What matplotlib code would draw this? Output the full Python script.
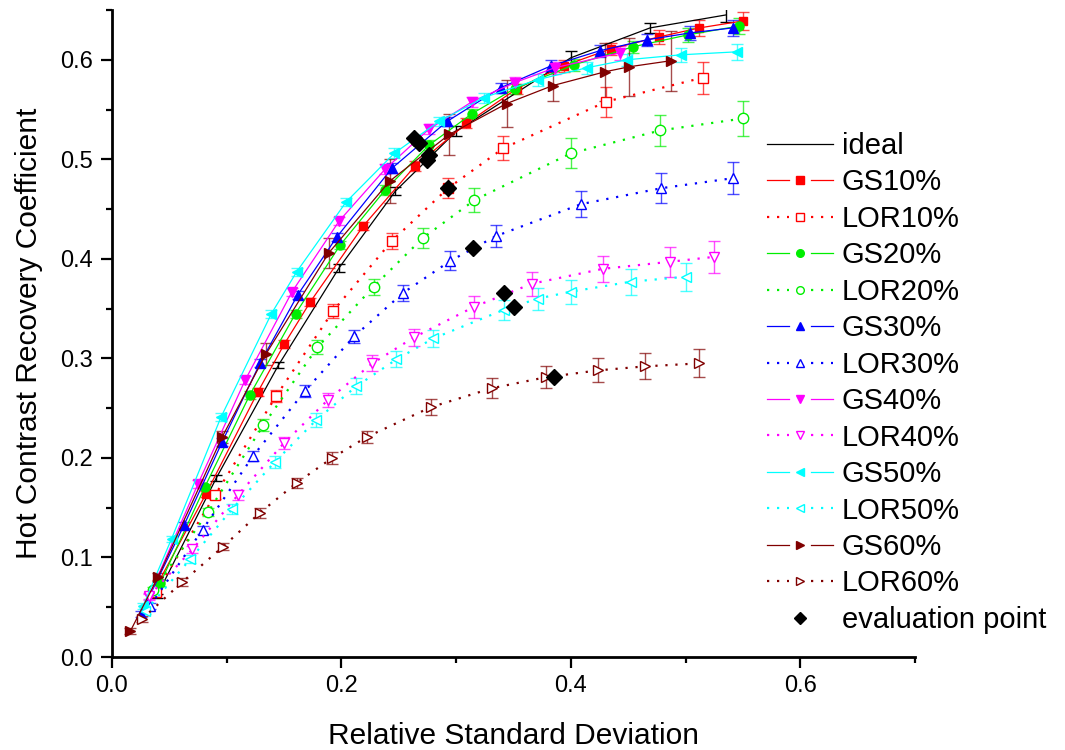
import matplotlib

matplotlib.use("Agg")

import matplotlib.pyplot as plt
from matplotlib.legend_handler import HandlerBase
from matplotlib.lines import Line2D
from matplotlib.ticker import MultipleLocator

plt.rcParams["font.family"] = ["Liberation Sans", "DejaVu Sans"]

# values
IDEAL_X = [0.039, 0.091, 0.145, 0.198, 0.247, 0.300, 0.400, 0.469, 0.535]
IDEAL_Y = [0.061, 0.180, 0.293, 0.391, 0.468, 0.528, 0.602, 0.632, 0.645]
IDEAL_E = [0.002, 0.003, 0.003, 0.004, 0.004, 0.005, 0.007, 0.005, 0.007]

GS10_X = [0.040, 0.082, 0.127, 0.150, 0.173, 0.219, 0.264, 0.309, 0.353, 0.394, 0.435, 0.477, 0.512, 0.550]
GS10_Y = [0.074, 0.164, 0.266, 0.314, 0.357, 0.433, 0.493, 0.536, 0.571, 0.594, 0.611, 0.623, 0.632, 0.639]
GS10_E = [0.003, 0.003, 0.004, 0.004, 0.004, 0.004, 0.005, 0.005, 0.005, 0.006, 0.006, 0.007, 0.008, 0.009]

LOR10_X = [0.038, 0.090, 0.143, 0.193, 0.244, 0.293, 0.341, 0.431, 0.515]
LOR10_Y = [0.065, 0.163, 0.262, 0.348, 0.418, 0.471, 0.511, 0.558, 0.582]
LOR10_E = [0.003, 0.004, 0.006, 0.007, 0.008, 0.010, 0.012, 0.015, 0.016]

GS20_X = [0.042, 0.081, 0.120, 0.160, 0.199, 0.238, 0.276, 0.314, 0.351, 0.403, 0.454, 0.502, 0.547]
GS20_Y = [0.074, 0.171, 0.263, 0.345, 0.414, 0.469, 0.514, 0.546, 0.571, 0.595, 0.613, 0.625, 0.634]
GS20_E = [0.003, 0.003, 0.004, 0.004, 0.004, 0.005, 0.005, 0.005, 0.005, 0.006, 0.006, 0.007, 0.008]

LOR20_X = [0.036, 0.084, 0.132, 0.179, 0.228, 0.271, 0.316, 0.400, 0.478, 0.550]
LOR20_Y = [0.067, 0.146, 0.233, 0.311, 0.372, 0.421, 0.459, 0.506, 0.529, 0.541]
LOR20_E = [0.003, 0.004, 0.006, 0.007, 0.008, 0.010, 0.012, 0.015, 0.016, 0.018]

GS30_X = [0.025, 0.063, 0.096, 0.129, 0.162, 0.196, 0.244, 0.292, 0.339, 0.383, 0.425, 0.466, 0.504, 0.541]
GS30_Y = [0.043, 0.133, 0.216, 0.295, 0.364, 0.422, 0.491, 0.538, 0.572, 0.594, 0.609, 0.620, 0.627, 0.632]
GS30_E = [0.003, 0.003, 0.004, 0.004, 0.004, 0.004, 0.005, 0.005, 0.005, 0.006, 0.006, 0.006, 0.007, 0.008]

LOR30_X = [0.033, 0.079, 0.123, 0.168, 0.211, 0.254, 0.295, 0.335, 0.409, 0.479, 0.541]
LOR30_Y = [0.051, 0.128, 0.202, 0.267, 0.322, 0.366, 0.398, 0.423, 0.455, 0.471, 0.481]
LOR30_E = [0.003, 0.004, 0.005, 0.006, 0.007, 0.008, 0.0095, 0.011, 0.013, 0.015, 0.016]

GS40_X = [0.032, 0.075, 0.116, 0.157, 0.198, 0.238, 0.276, 0.314, 0.351, 0.386, 0.443]
GS40_Y = [0.060, 0.174, 0.278, 0.367, 0.438, 0.490, 0.530, 0.558, 0.577, 0.592, 0.607]
GS40_E = [0.003, 0.004, 0.004, 0.004, 0.004, 0.005, 0.005, 0.005, 0.006, 0.006, 0.007]

LOR40_X = [0.032, 0.070, 0.110, 0.150, 0.188, 0.227, 0.263, 0.316, 0.366, 0.428, 0.486, 0.525]
LOR40_Y = [0.061, 0.108, 0.163, 0.215, 0.258, 0.295, 0.321, 0.352, 0.375, 0.390, 0.397, 0.402]
LOR40_E = [0.003, 0.004, 0.005, 0.006, 0.007, 0.008, 0.009, 0.011, 0.012, 0.013, 0.015, 0.016]

GS50_X = [0.027, 0.052, 0.095, 0.139, 0.161, 0.204, 0.246, 0.285, 0.324, 0.371, 0.414, 0.449, 0.496, 0.545]
GS50_Y = [0.051, 0.119, 0.241, 0.345, 0.387, 0.457, 0.506, 0.538, 0.562, 0.580, 0.592, 0.600, 0.605, 0.608]
GS50_E = [0.003, 0.003, 0.004, 0.004, 0.004, 0.004, 0.005, 0.005, 0.005, 0.006, 0.006, 0.006, 0.007, 0.008]

LOR50_X = [0.029, 0.068, 0.105, 0.142, 0.178, 0.213, 0.248, 0.280, 0.342, 0.371, 0.400, 0.452, 0.500]
LOR50_Y = [0.046, 0.098, 0.149, 0.196, 0.238, 0.272, 0.299, 0.320, 0.349, 0.360, 0.367, 0.377, 0.382]
LOR50_E = [0.003, 0.004, 0.005, 0.006, 0.007, 0.008, 0.008, 0.009, 0.010, 0.011, 0.012, 0.013, 0.014]

GS60_X = [0.016, 0.040, 0.096, 0.134, 0.189, 0.242, 0.294, 0.344, 0.384, 0.430, 0.451, 0.487]
GS60_Y = [0.026, 0.080, 0.221, 0.304, 0.406, 0.478, 0.525, 0.556, 0.574, 0.588, 0.593, 0.599]
GS60_E = [0.003, 0.004, 0.006, 0.011, 0.015, 0.022, 0.021, 0.024, 0.015, 0.029, 0.029, 0.030]

LOR60_X = [0.026, 0.061, 0.097, 0.129, 0.161, 0.192, 0.222, 0.278, 0.331, 0.378, 0.424, 0.465, 0.512]
LOR60_Y = [0.038, 0.075, 0.111, 0.145, 0.175, 0.200, 0.221, 0.251, 0.270, 0.281, 0.288, 0.292, 0.295]
LOR60_E = [0.003, 0.004, 0.004, 0.005, 0.005, 0.006, 0.006, 0.008, 0.010, 0.011, 0.012, 0.013, 0.014]

EVAL_X = [0.263, 0.268, 0.275, 0.276, 0.293, 0.315, 0.342, 0.350, 0.385]
EVAL_Y = [0.521, 0.516, 0.499, 0.504, 0.471, 0.411, 0.366, 0.352, 0.281]

DOTS = (0, (1, 3.5))

# label, x, y, err, color, marker, filled
SERIES = [
    ("GS10%", GS10_X, GS10_Y, GS10_E, "#ff0000", "s", True),
    ("LOR10%", LOR10_X, LOR10_Y, LOR10_E, "#ff0000", "s", False),
    ("GS20%", GS20_X, GS20_Y, GS20_E, "#00ee00", "o", True),
    ("LOR20%", LOR20_X, LOR20_Y, LOR20_E, "#00ee00", "o", False),
    ("GS30%", GS30_X, GS30_Y, GS30_E, "#0000ff", "^", True),
    ("LOR30%", LOR30_X, LOR30_Y, LOR30_E, "#0000ff", "^", False),
    ("GS40%", GS40_X, GS40_Y, GS40_E, "#ff00ff", "v", True),
    ("LOR40%", LOR40_X, LOR40_Y, LOR40_E, "#ff00ff", "v", False),
    ("GS50%", GS50_X, GS50_Y, GS50_E, "#00ffff", "<", True),
    ("LOR50%", LOR50_X, LOR50_Y, LOR50_E, "#00ffff", "<", False),
    ("GS60%", GS60_X, GS60_Y, GS60_E, "#800000", ">", True),
    ("LOR60%", LOR60_X, LOR60_Y, LOR60_E, "#800000", ">", False),
]


class GapHandler(HandlerBase):
    # Origin-style legend sample: line, gap, marker, gap, line
    def __init__(self, ms=5.5):
        super().__init__()
        self.ms = ms

    def create_artists(self, legend, orig, xdescent, ydescent, width, height, fontsize, trans):
        y = (height - ydescent) / 2
        x0 = -xdescent
        has_marker = orig.get_marker() not in (None, "None", "none", "")
        has_line = orig.get_linestyle() not in ("None", "none", "")
        arts = []
        if has_line:
            segs = [(x0, x0 + width)]
            if has_marker:
                segs = [(x0, x0 + 0.33 * width), (x0 + 0.67 * width, x0 + width)]
            for a, b in segs:
                ln = Line2D([a, b], [y, y])
                ln.update_from(orig)
                ln.set_marker("None")
                ln.set_transform(trans)
                arts.append(ln)
        if has_marker:
            mk = Line2D([x0 + width / 2], [y])
            mk.update_from(orig)
            mk.set_linestyle("None")
            mk.set_markersize(self.ms)
            mk.set_transform(trans)
            arts.append(mk)
        return arts


def main():
    fig = plt.figure(figsize=(10.65, 7.5), dpi=100)
    ax = fig.add_axes([112 / 1065, 93 / 750, 803 / 1065, 647 / 750])

    handles = []
    labels = []

    cont = ax.errorbar(IDEAL_X, IDEAL_Y, yerr=IDEAL_E, color="black", lw=0.9,
                       capsize=4, capthick=1, elinewidth=1, zorder=3)
    handles.append(cont[0])
    labels.append("ideal")

    for label, x, y, e, color, marker, filled in SERIES:
        ls = "-" if filled else DOTS
        lw = 0.9 if filled else 1.6
        ms = 6.5 if filled else 7.5
        if marker == "s":
            ms -= 1
        cont = ax.errorbar(
            x, y, yerr=e,
            color=color, linestyle=ls, linewidth=lw,
            marker=marker, markersize=ms,
            markerfacecolor=color if filled else "white",
            markeredgecolor=color, markeredgewidth=1.0,
            ecolor=color, elinewidth=1.0, capsize=4, capthick=1.0,
            zorder=3,
        )
        for art in list(cont[1]) + list(cont[2]):
            art.set_alpha(0.7)
        handles.append(cont[0])
        labels.append(label)

    ev = ax.plot(EVAL_X, EVAL_Y, linestyle="none", marker="D", markersize=8.5,
                 color="black", zorder=6)[0]
    handles.append(ev)
    labels.append("evaluation point")

    ax.set_xlim(0, 0.7)
    ax.set_ylim(0, 0.65)
    ax.xaxis.set_major_locator(MultipleLocator(0.2))
    ax.xaxis.set_minor_locator(MultipleLocator(0.1))
    ax.yaxis.set_major_locator(MultipleLocator(0.1))
    ax.yaxis.set_minor_locator(MultipleLocator(0.05))
    ax.xaxis.set_major_formatter(lambda v, p: f"{v:.1f}")
    ax.yaxis.set_major_formatter(lambda v, p: f"{v:.1f}")

    for side in ("top", "right"):
        ax.spines[side].set_visible(False)
    for side in ("left", "bottom"):
        ax.spines[side].set_linewidth(2.0)

    ax.tick_params(which="major", direction="out", length=8, width=1.6, labelsize=17)
    ax.tick_params(which="minor", direction="out", length=4.5, width=1.6)
    ax.tick_params(axis="x", which="major", pad=5)
    ax.tick_params(axis="y", which="major", pad=6)

    ax.set_xlabel("Relative Standard Deviation", fontsize=21.5)
    ax.set_ylabel("Hot Contrast Recovery Coefficient", fontsize=21.5)
    ax.xaxis.set_label_coords(0.5, -0.1)
    ax.yaxis.set_label_coords(-0.0855, 0.5)

    ax.legend(
        handles, labels,
        handler_map={h: GapHandler(ms=6 if h is ev else 5.5) for h in handles},
        loc="upper left",
        bbox_to_anchor=(767 / 1065, 1 - 132 / 750),
        bbox_transform=fig.transFigure,
        frameon=False,
        fontsize=21,
        handlelength=2.26,
        handletextpad=0.3,
        labelspacing=0.29,
        borderpad=0,
        borderaxespad=0,
    )

    fig.savefig("out.png", dpi=100)


if __name__ == "__main__":
    main()
